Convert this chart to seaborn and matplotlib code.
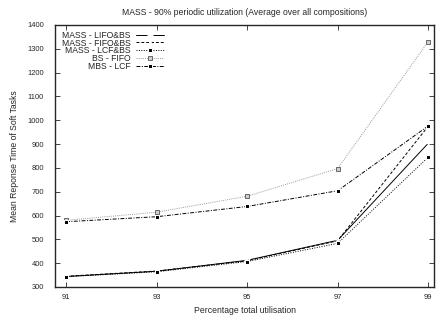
import numpy as np
import pandas as pd
import matplotlib
matplotlib.use("Agg")
import matplotlib.pyplot as plt
import seaborn as sns

### Dados
utilizacao = [91, 93, 95, 97, 99]
mass_lifo_bs = [344, 366, 412, 496, 903]
mass_fifo_bs = [345, 367, 410, 494, 975]
mass_lcf_bs = [343, 364, 407, 483, 845]
bs_fifo = [580, 614, 681, 797, 1330]
mbs_lcf = [574, 595, 638, 704, 976]

nomes = ["MASS - LIFO&BS", "MASS - FIFO&BS", "MASS - LCF&BS", "BS - FIFO", "MBS - LCF"]
series = [mass_lifo_bs, mass_fifo_bs, mass_lcf_bs, bs_fifo, mbs_lcf]

### Estilo
sns.set_style("ticks")
plt.rcParams["font.family"] = ["Liberation Sans", "DejaVu Sans"]
plt.rcParams["xtick.direction"] = "in"
plt.rcParams["ytick.direction"] = "in"

estilos = [
    dict(color = "black", linestyle = "-", marker = "+", markersize = 5, mew = 0.9),
    dict(color = "black", linestyle = (0, (3, 2)), marker = "x", markersize = 4, mew = 0.9),
    dict(color = "black", linestyle = (0, (1, 1.5)), marker = "s", markersize = 2.8),
    dict(color = "#999999", linestyle = (0, (1, 1.2)), marker = "s", markersize = 3.3,
         markerfacecolor = "#d0d0d0", markeredgecolor = "#666666", mew = 0.7),
    dict(color = "black", linestyle = (0, (4, 1.5, 1, 1.5)), marker = "s", markersize = 3.2),
]

fig = plt.figure(figsize = (4.38, 3.18), dpi = 100)
ax = fig.add_axes([0.126, 0.0975, 0.865, 0.824])

for nome, valores, est in zip(nomes, series, estilos):
    df = pd.DataFrame({"x": utilizacao, "y": valores})
    sns.lineplot(data = df, x = "x", y = "y", ax = ax, label = nome, linewidth = 0.7, **est)

ax.set_xlim(90.76, 99.13)
ax.set_ylim(300, 1400)
ax.set_xticks(utilizacao)
ax.set_yticks(range(300, 1401, 100))
ax.tick_params(axis = "both", which = "both", top = True, right = True, length = 3.5,
               width = 0.6, labelsize = 5.4)
ax.tick_params(axis = "y", pad = 8)
ax.tick_params(axis = "x", pad = 5)
for s in ax.spines.values():
    s.set_linewidth(1.0)
ax.set_xlabel("Percentage total utilisation", fontsize = 6.2, labelpad = 4)
ax.set_ylabel("Mean Reponse Time of Soft Tasks", fontsize = 6.2, labelpad = 6)
ax.set_title("MASS - 90% periodic utilization (Average over all compositions)", fontsize = 6.2, pad = 7)

leg = ax.legend(loc = "upper left", bbox_to_anchor = (0.0, 1.005), markerfirst = False, frameon = False,
                fontsize = 6.2, labelspacing = -0.12, handlelength = 3.2, handletextpad = 0.6,
                borderpad = 0.3, numpoints = 1)

fig.savefig("out.png", dpi = 100)
